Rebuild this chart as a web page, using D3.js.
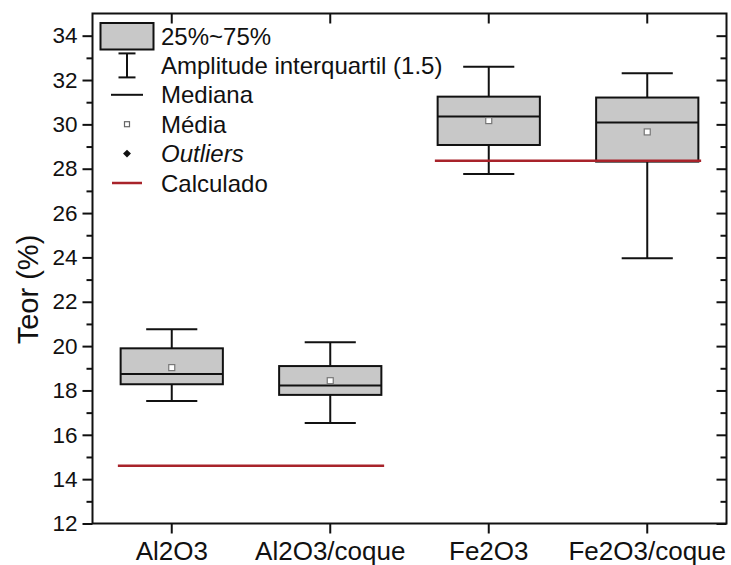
<!DOCTYPE html>
<html>
<head>
<meta charset="utf-8">
<script src="https://cdn.jsdelivr.net/npm/d3@7"></script>
<style>
  body { margin: 0; background: #fff; }
  svg { font-family: "Liberation Sans", Arial, sans-serif; }
</style>
</head>
<body>
<div class="container"></div>
<script>
const categories = ["Al2O3", "Al2O3/coque", "Fe2O3", "Fe2O3/coque"]
const whiskerLow = [17.53, 16.53, 27.76, 23.96]
const q1 = [18.28, 17.80, 29.07, 28.32]
const median = [18.74, 18.22, 30.35, 30.08]
const q3 = [19.90, 19.10, 31.25, 31.21]
const whiskerHigh = [20.76, 20.17, 32.60, 32.31]
const mean = [19.03, 18.44, 30.17, 29.66]

// "Calculado" reference lines, each spans two categories
const calcValues = [14.61, 28.36]
const calcFrom = ["Al2O3", "Fe2O3"]
const calcTo = ["Al2O3/coque", "Fe2O3/coque"]

const yMajorTicks = [12, 14, 16, 18, 20, 22, 24, 26, 28, 30, 32, 34]
const yMinorTicks = [13, 15, 17, 19, 21, 23, 25, 27, 29, 31, 33]

const legendLabels = ["25%~75%", "Amplitude interquartil (1.5)", "Mediana", "Média", "Outliers", "Calculado"]

const w = 731
const h = 565
const plotLeft = 92.5, plotRight = 726.5, plotTop = 13.5, plotBottom = 523.5
const red = "#a8232a"
const boxFill = "#c8c8c8"

const xScale = d3.scaleBand()
                 .domain(categories)
                 .range([plotLeft, plotRight])
                 .padding(0)
const cx = (c) => xScale(c) + xScale.bandwidth() / 2
const step = xScale.step()

const yScale = d3.scaleLinear()
                 .domain([12, 35])
                 .range([plotBottom, plotTop])

const svg = d3.select(".container")
              .append("svg")
              .attr("width", w)
              .attr("height", h)

// boxes
const rows = categories.map((c, i) => ({
    c: c, lo: whiskerLow[i], q1: q1[i], med: median[i], q3: q3[i], hi: whiskerHigh[i], mean: mean[i]
}))
const boxW = step * 0.645
const capW = boxW / 2

const g = svg.selectAll("g.box")
             .data(rows)
             .enter()
             .append("g")
             .attr("class", "box")
             .attr("stroke", "#111")
             .attr("stroke-width", 2)

g.append("line")
 .attr("x1", d => cx(d.c)).attr("x2", d => cx(d.c))
 .attr("y1", d => yScale(d.hi)).attr("y2", d => yScale(d.q3))
g.append("line")
 .attr("x1", d => cx(d.c)).attr("x2", d => cx(d.c))
 .attr("y1", d => yScale(d.q1)).attr("y2", d => yScale(d.lo))
g.append("line")
 .attr("x1", d => cx(d.c) - capW / 2).attr("x2", d => cx(d.c) + capW / 2)
 .attr("y1", d => yScale(d.hi)).attr("y2", d => yScale(d.hi))
g.append("line")
 .attr("x1", d => cx(d.c) - capW / 2).attr("x2", d => cx(d.c) + capW / 2)
 .attr("y1", d => yScale(d.lo)).attr("y2", d => yScale(d.lo))
g.append("rect")
 .attr("x", d => cx(d.c) - boxW / 2)
 .attr("width", boxW)
 .attr("y", d => yScale(d.q3))
 .attr("height", d => yScale(d.q1) - yScale(d.q3))
 .attr("fill", boxFill)
g.append("line")
 .attr("x1", d => cx(d.c) - boxW / 2).attr("x2", d => cx(d.c) + boxW / 2)
 .attr("y1", d => yScale(d.med)).attr("y2", d => yScale(d.med))
g.append("rect")
 .attr("x", d => cx(d.c) - 3).attr("width", 6)
 .attr("y", d => yScale(d.mean) - 3).attr("height", 6)
 .attr("fill", "#fff")
 .attr("stroke", "#777")
 .attr("stroke-width", 1.2)

// calculated lines
svg.selectAll("line.calc")
   .data(calcValues)
   .enter()
   .append("line")
   .attr("class", "calc")
   .attr("x1", (d, i) => cx(calcFrom[i]) - step * 0.34)
   .attr("x2", (d, i) => cx(calcTo[i]) + step * 0.34)
   .attr("y1", d => yScale(d))
   .attr("y2", d => yScale(d))
   .attr("stroke", red)
   .attr("stroke-width", 2.5)

// axes
const axisStyle = (sel) => {
    sel.select(".domain").remove()
    sel.selectAll("line").attr("stroke", "#111").attr("stroke-width", 2)
    sel.selectAll("text").attr("fill", "#111").style("font-size", "22.5px")
}

svg.append("g")
   .attr("transform", `translate(${plotLeft}, 0)`)
   .call(d3.axisLeft(yScale).tickValues(yMajorTicks).tickSize(10).tickPadding(5).tickFormat(d3.format("d")))
   .call(axisStyle)
svg.append("g")
   .attr("transform", `translate(${plotLeft}, 0)`)
   .call(d3.axisLeft(yScale).tickValues(yMinorTicks).tickSize(6).tickFormat(""))
   .call(axisStyle)
svg.append("g")
   .attr("transform", `translate(${plotRight}, 0)`)
   .call(d3.axisRight(yScale).tickValues(yMajorTicks).tickSize(-10).tickFormat(""))
   .call(axisStyle)
svg.append("g")
   .attr("transform", `translate(${plotRight}, 0)`)
   .call(d3.axisRight(yScale).tickValues(yMinorTicks).tickSize(-6).tickFormat(""))
   .call(axisStyle)

svg.append("g")
   .attr("transform", `translate(0, ${plotBottom})`)
   .call(d3.axisBottom(xScale).tickSize(10).tickPadding(8))
   .call(axisStyle)
   .selectAll("text")
   .style("font-size", "26px")
svg.append("g")
   .attr("transform", `translate(0, ${plotTop})`)
   .call(d3.axisTop(xScale).tickSize(-10).tickFormat(""))
   .call(axisStyle)

// frame
svg.append("rect")
   .attr("x", plotLeft).attr("y", plotTop)
   .attr("width", plotRight - plotLeft).attr("height", plotBottom - plotTop)
   .attr("fill", "none")
   .attr("stroke", "#111")
   .attr("stroke-width", 2)

// y title
svg.append("text")
   .attr("transform", `translate(38, ${(plotTop + plotBottom) / 2 + 21}) rotate(-90)`)
   .attr("text-anchor", "middle")
   .style("font-size", "29px")
   .attr("fill", "#111")
   .text("Teor (%)")

// legend
const lgX = 127, lgY0 = 36, lgDy = 29.4, lgTx = 161
const lg = svg.append("g").attr("stroke", "#111").attr("stroke-width", 2)
lg.append("rect")
  .attr("x", lgX - 26.5).attr("y", lgY0 - 13).attr("width", 53).attr("height", 26.5)
  .attr("fill", boxFill)
lg.append("line").attr("x1", lgX).attr("x2", lgX).attr("y1", lgY0 + lgDy - 12).attr("y2", lgY0 + lgDy + 12)
lg.append("line").attr("x1", lgX - 8.5).attr("x2", lgX + 8.5).attr("y1", lgY0 + lgDy - 12).attr("y2", lgY0 + lgDy - 12)
lg.append("line").attr("x1", lgX - 8.5).attr("x2", lgX + 8.5).attr("y1", lgY0 + lgDy + 12).attr("y2", lgY0 + lgDy + 12)
lg.append("line").attr("x1", lgX - 16).attr("x2", lgX + 16).attr("y1", lgY0 + 2 * lgDy).attr("y2", lgY0 + 2 * lgDy)
lg.append("rect")
  .attr("x", lgX - 2.5).attr("y", lgY0 + 3 * lgDy - 2.5).attr("width", 5).attr("height", 5)
  .attr("fill", "#fff").attr("stroke", "#666").attr("stroke-width", 1.2)
lg.append("path")
  .attr("d", d3.symbol(d3.symbolDiamond2, 40)())
  .attr("transform", `translate(${lgX}, ${lgY0 + 4 * lgDy})`)
  .attr("fill", "#111").attr("stroke", "none")
lg.append("line").attr("x1", lgX - 15).attr("x2", lgX + 15).attr("y1", lgY0 + 5 * lgDy).attr("y2", lgY0 + 5 * lgDy)
  .attr("stroke", red).attr("stroke-width", 2.5)

svg.selectAll("text.legend")
   .data(legendLabels)
   .enter()
   .append("text")
   .attr("class", "legend")
   .attr("x", lgTx)
   .attr("y", (d, i) => lgY0 + i * lgDy + 8.5)
   .style("font-size", "24px")
   .style("font-style", d => d === "Outliers" ? "italic" : "normal")
   .attr("fill", "#111")
   .text(d => d)
</script>
</body>
</html>
